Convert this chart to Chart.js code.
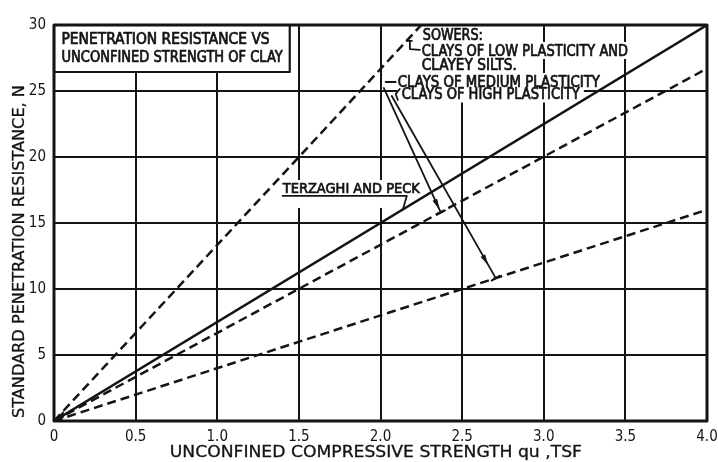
<!DOCTYPE html>
<html>
<head>
<meta charset="utf-8">
<script src="https://cdn.jsdelivr.net/npm/chart.js@4/dist/chart.umd.min.js"></script>
<style>
  html, body { margin: 0; padding: 0; background: #fff; }
  #wrap { width: 718px; height: 462px; position: relative; }
</style>
</head>
<body>
<div id="wrap"><canvas id="c"></canvas></div>
<script>
// Standard penetration resistance N versus unconfined compressive strength qu (tsf)

const xTickLabels = ['0', '0.5', '1.0', '1.5', '2.0', '2.5', '3.0', '3.5', '4.0'];
const yTickLabels = ['0', '5', '10', '15', '20', '25', '30'];

// Sowers: clays of low plasticity and clayey silts
const lowPlasticityQu = [0, 2.25];
const lowPlasticityN = [0, 30];
// Sowers: clays of medium plasticity
const mediumPlasticityQu = [0, 4.0];
const mediumPlasticityN = [0, 26.7];
// Sowers: clays of high plasticity
const highPlasticityQu = [0, 4.0];
const highPlasticityN = [0, 16];
// Terzaghi and Peck
const terzaghiPeckQu = [0, 4.0];
const terzaghiPeckN = [0, 30];

const INK = '#141414';
const FONT = '"DejaVu Sans Condensed", "Liberation Sans Narrow", "DejaVu Sans", sans-serif';

function series(qu, n, dash, width) {
  return {
    data: qu.map((q, i) => ({ x: q, y: n[i] })),
    showLine: true,
    borderColor: INK,
    borderWidth: width,
    borderDash: dash,
    pointRadius: 0,
    fill: false
  };
}

// Text placed in chart units: left/right qu and centre N
const notes = [
  { text: 'PENETRATION RESISTANCE VS', q0: 0.046, q1: 1.321, n: 28.98, size: 15, bg: false },
  { text: 'UNCONFINED STRENGTH OF CLAY', q0: 0.046, q1: 1.401, n: 27.58, size: 15, bg: false },
  { text: 'SOWERS:', q0: 2.259, q1: 2.627, n: 29.28, size: 15, bg: true },
  { text: 'CLAYS OF LOW PLASTICITY AND', q0: 2.253, q1: 3.516, n: 28.07, size: 15, bg: true },
  { text: 'CLAYEY SILTS.', q0: 2.253, q1: 2.835, n: 26.97, size: 15, bg: true },
  { text: 'CLAYS OF MEDIUM PLASTICITY', q0: 2.106, q1: 3.344, n: 25.72, size: 15, bg: true },
  { text: 'CLAYS OF HIGH PLASTICITY', q0: 2.130, q1: 3.221, n: 24.77, size: 15, bg: true },
  { text: 'TERZAGHI AND PECK', q0: 1.401, q1: 2.241, n: 17.65, size: 14, bg: false }
];

// Leader polylines in chart units
const leaders = [
  [[1.401, 17.05], [2.161, 17.05], [2.137, 16.03]],
  [[2.161, 28.79], [2.192, 28.79]],
  [[2.180, 28.79], [2.180, 28.18], [2.241, 28.11]],
  [[2.032, 25.68], [2.093, 25.68]],
  [[2.118, 25.15], [2.093, 24.77], [2.106, 24.32]]
];
// Arrows to the Sowers lines: start, end, arrow tip set back from the end (px)
const arrows = [
  { from: [2.020, 25.23], to: [2.369, 15.80], back: 3 },
  { from: [2.069, 24.62], to: [2.706, 10.82], back: 15 }
];

function fitText(ctx, text, x0, x1, yc, size, heavy) {
  ctx.save();
  ctx.font = size + 'px ' + FONT;
  const w = ctx.measureText(text).width;
  ctx.translate(x0, yc + size * 0.36);
  ctx.scale((x1 - x0) / w, 1);
  ctx.textBaseline = 'alphabetic';
  ctx.textAlign = 'left';
  ctx.fillStyle = INK;
  ctx.fillText(text, 0, 0);
  if (heavy) {
    ctx.strokeStyle = INK;
    ctx.lineWidth = heavy;
    ctx.strokeText(text, 0, 0);
  }
  ctx.restore();
}

const overlay = {
  id: 'overlay',
  beforeDatasetsDraw(chart) {
    const ctx = chart.ctx, xs = chart.scales.x, ys = chart.scales.y;
    const X = v => xs.getPixelForValue(v), Y = v => ys.getPixelForValue(v);
    ctx.save();
    ctx.fillStyle = '#fff';
    // title box
    ctx.fillRect(X(0), Y(30), X(1.444) - X(0), Y(26.44) - Y(30));
    // label backgrounds
    notes.forEach(nt => {
      if (!nt.bg) return;
      ctx.fillRect(X(nt.q0) - 4, Y(nt.n) - 8.5, X(nt.q1) - X(nt.q0) + 8, 17);
    });
    ctx.fillRect(X(1.382), Y(18.26), X(2.192) - X(1.382), Y(16.14) - Y(18.26));
    ctx.restore();
  },
  afterDatasetsDraw(chart) {
    const ctx = chart.ctx, xs = chart.scales.x, ys = chart.scales.y;
    const X = v => xs.getPixelForValue(v), Y = v => ys.getPixelForValue(v);
    const a = chart.chartArea;
    ctx.save();
    ctx.strokeStyle = INK;
    ctx.fillStyle = INK;
    ctx.lineCap = 'round';
    ctx.lineJoin = 'round';

    // ink pooled where the lines meet at the origin
    const q = 0.06;
    ctx.beginPath();
    ctx.moveTo(X(0), Y(0));
    ctx.lineTo(X(q), Y(q * lowPlasticityN[1] / lowPlasticityQu[1]));
    ctx.lineTo(X(q), Y(q * highPlasticityN[1] / highPlasticityQu[1]));
    ctx.closePath();
    ctx.fill();

    // title box frame
    ctx.lineWidth = 2.2;
    ctx.strokeRect(X(0), Y(30), X(1.444) - X(0), Y(26.44) - Y(30));

    notes.forEach(nt => fitText(ctx, nt.text, X(nt.q0), X(nt.q1), Y(nt.n), nt.size, 0.7));

    ctx.lineWidth = 1.8;
    leaders.forEach(pts => {
      ctx.beginPath();
      pts.forEach((p, i) => i ? ctx.lineTo(X(p[0]), Y(p[1])) : ctx.moveTo(X(p[0]), Y(p[1])));
      ctx.stroke();
    });

    arrows.forEach(ar => {
      const x0 = X(ar.from[0]), y0 = Y(ar.from[1]);
      const x1 = X(ar.to[0]), y1 = Y(ar.to[1]);
      const len = Math.hypot(x1 - x0, y1 - y0);
      const ux = (x1 - x0) / len, uy = (y1 - y0) / len;
      ctx.lineWidth = 1.8;
      ctx.beginPath(); ctx.moveTo(x0, y0); ctx.lineTo(x1, y1); ctx.stroke();
      // arrow head
      const tx = x1 - ux * ar.back, ty = y1 - uy * ar.back;
      ctx.beginPath();
      ctx.moveTo(tx, ty);
      ctx.lineTo(tx - ux * 11 - uy * 2.6, ty - uy * 11 + ux * 2.6);
      ctx.lineTo(tx - ux * 11 + uy * 2.6, ty - uy * 11 - ux * 2.6);
      ctx.closePath(); ctx.fill();
      // end bar
      ctx.lineWidth = 2.2;
      ctx.beginPath();
      ctx.moveTo(x1 - uy * 4.5, y1 + ux * 4.5);
      ctx.lineTo(x1 + uy * 4.5, y1 - ux * 4.5);
      ctx.stroke();
    });

    // plot frame
    ctx.lineWidth = 3;
    ctx.strokeRect(a.left, a.top, a.right - a.left, a.bottom - a.top);

    // axis titles
    ctx.save();
    ctx.translate(a.left - 36, (Y(25.45) + Y(0.23)) / 2);
    ctx.rotate(-Math.PI / 2);
    const hy = (Y(0.23) - Y(25.45)) / 2;
    fitText(ctx, 'STANDARD PENETRATION RESISTANCE, N', -hy, hy, 0, 16, 0.3);
    ctx.restore();
    fitText(ctx, 'UNCONFINED COMPRESSIVE STRENGTH qu ,TSF', X(0.709), X(3.234), a.bottom + 30, 16, 0.3);

    ctx.restore();
  }
};

new Chart(document.getElementById('c'), {
  type: 'scatter',
  data: {
    datasets: [
      series(terzaghiPeckQu, terzaghiPeckN, [], 2.4),
      series(lowPlasticityQu, lowPlasticityN, [9, 5], 2.5),
      series(mediumPlasticityQu, mediumPlasticityN, [9, 5], 2.5),
      series(highPlasticityQu, highPlasticityN, [9, 5], 2.5)
    ]
  },
  options: {
    responsive: true,
    maintainAspectRatio: false,
    animation: false,
    layout: { padding: { top: 25, right: 11, left: 0, bottom: 0 } },
    plugins: { legend: { display: false }, tooltip: { enabled: false } },
    scales: {
      x: {
        type: 'linear', min: 0, max: 4,
        afterFit(s) { s.height = 41; s.paddingLeft = 0; s.paddingRight = 0; },
        border: { display: false },
        grid: { color: INK, lineWidth: 2, drawTicks: false },
        ticks: {
          stepSize: 0.5, padding: 7, color: INK, maxRotation: 0,
          font: { family: FONT, size: 15 },
          callback: (v, i) => xTickLabels[i]
        }
      },
      y: {
        type: 'linear', min: 0, max: 30,
        afterFit(s) { s.width = 54; s.paddingTop = 0; s.paddingBottom = 0; },
        border: { display: false },
        grid: { color: INK, lineWidth: 2, drawTicks: false },
        ticks: {
          stepSize: 5, padding: 8, color: INK,
          font: { family: FONT, size: 15 },
          callback: (v, i) => yTickLabels[i]
        }
      }
    }
  },
  plugins: [overlay]
});
</script>
</body>
</html>
